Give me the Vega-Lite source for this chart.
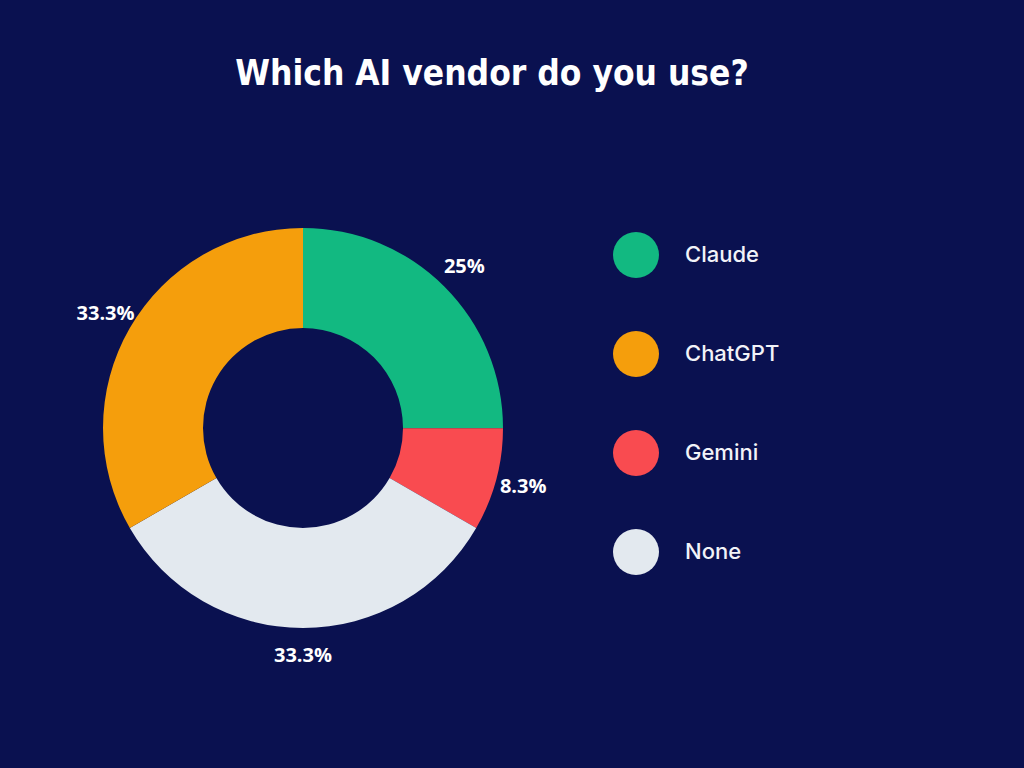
{
  "$schema": "https://vega.github.io/schema/vega-lite/v6.json",
  "autosize": "none",
  "width": 606,
  "height": 600,
  "padding": {"left": 0, "top": 128, "right": 418, "bottom": 40},
  "background": "#0a1150",
  "title": {
    "text": "Which AI vendor do you use?",
    "font": "DejaVu Sans Condensed",
    "fontSize": 35,
    "fontWeight": "bold",
    "color": "#ffffff",
    "anchor": "middle",
    "dx": 189,
    "offset": 36
  },
  "data": {
    "values": [
      {"vendor": "Claude", "share": 0.25},
      {"vendor": "Gemini", "share": 0.083},
      {"vendor": "None", "share": 0.333},
      {"vendor": "ChatGPT", "share": 0.333}
    ]
  },
  "transform": [
    {"window": [{"op": "row_number", "as": "slice"}]}
  ],
  "encoding": {
    "theta": {"field": "share", "type": "quantitative", "stack": true},
    "order": {"field": "slice", "type": "quantitative"}
  },
  "layer": [
    {
      "mark": {"type": "arc", "innerRadius": 100, "outerRadius": 200},
      "encoding": {
        "color": {
          "field": "vendor",
          "type": "nominal",
          "scale": {
            "domain": ["Claude", "ChatGPT", "Gemini", "None"],
            "range": ["#12b981", "#f59e0c", "#f94b50", "#e3e9ef"]
          },
          "legend": {
            "title": null,
            "orient": "none",
            "legendX": 613,
            "legendY": 104,
            "padding": 0,
            "symbolType": "circle",
            "symbolSize": 2116,
            "symbolStrokeWidth": 0,
            "symbolOpacity": 1,
            "rowPadding": 53,
            "labelOffset": 26,
            "labelFont": "Inter",
            "labelFontSize": 22,
            "labelFontWeight": 500,
            "labelColor": "#f2f3f8"
          }
        }
      }
    },
    {
      "mark": {
        "type": "text",
        "radius": 228,
        "font": "Open Sans",
        "fontSize": 20,
        "fontWeight": "bold",
        "color": "#ffffff",
        "align": "center",
        "baseline": "middle"
      },
      "encoding": {
        "text": {"field": "share", "type": "quantitative", "format": ".1~%"}
      }
    }
  ]
}
